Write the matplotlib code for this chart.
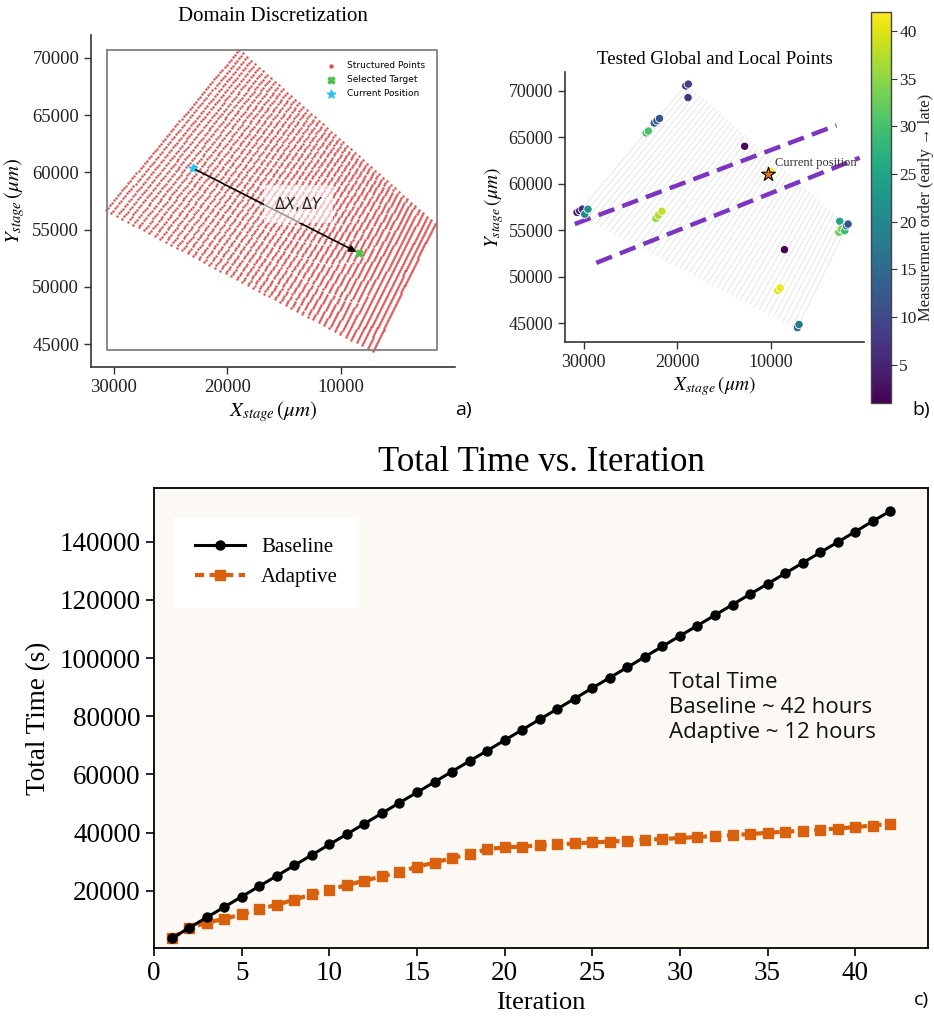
import numpy as np
import matplotlib
matplotlib.use("Agg")
import matplotlib.pyplot as plt

plt.rcParams["font.family"] = ["Liberation Serif", "DejaVu Serif"]
plt.rcParams["mathtext.fontset"] = "stix"

# sample region corners: top, left, right, bottom (stage coords, um)
corner_x = [19000, 30700, 1800, 7200]
corner_y = [70700, 56700, 55500, 44400]
n_cols, n_rows = 50, 66

current_pos = (23000, 60350)
target_pos = (8450, 52950)

# tested points for panel b
tested_x = [19070, 18800, 18830, 23330, 23080, 22450, 22160, 21880, 12770,
            30710, 30430, 30140, 29890, 29540, 22270, 21990, 21630, 10030,
            2590, 2690, 2420, 2050, 1880, 1700, 8510, 9220, 8970, 7130, 6950]
tested_y = [70500, 70700, 69250, 65450, 65660, 66520, 66770, 67010, 64020,
            56920, 57090, 57270, 56730, 57270, 56280, 56630, 57050, 61350,
            55960, 54780, 55130, 54950, 55490, 55670, 52920, 48520, 48800,
            44540, 44890]
tested_order = [8, 9, 7, 31, 30, 14, 13, 12, 2,
                4, 5, 6, 21, 22, 36, 37, 38, 42,
                25, 33, 34, 29, 15, 11, 1, 40, 41, 16, 17]
star_pos = (10280, 61080)

band_x = [[30950, 2950], [28650, 460]]
band_y = [[55670, 66270], [51500, 62790]]

# panel c
iterations = list(range(1, 43))
baseline = [3600, 7200, 10800, 14350, 17950, 21550, 25100, 28700, 32300, 35900,
            39450, 43050, 46650, 50250, 53800, 57400, 61000, 64600, 68150, 71750,
            75350, 78950, 82500, 86100, 89700, 93300, 96850, 100450, 104050, 107650,
            111200, 114800, 118400, 122000, 125550, 129150, 132750, 136350, 139900,
            143500, 147100, 150600]
adaptive = [3700, 7100, 9000, 10300, 11900, 13600, 15200, 16900, 18800, 20400,
            21900, 23500, 24900, 26500, 28200, 29700, 31200, 32600, 34300, 34900,
            35200, 35600, 35900, 36300, 36600, 36900, 37200, 37500, 37800, 38100,
            38500, 38800, 39100, 39500, 39900, 40300, 40600, 41000, 41400, 41900,
            42400, 43000]


def grid(n_u, n_v):
    # structured lattice inside the four corners
    u = np.linspace(0, 1, n_u)[:, None]
    v = np.linspace(0, 1, n_v)[None, :]
    tx, lx, rx, bx = corner_x
    ty, ly, ry, by = corner_y
    gx = (1 - u) * (1 - v) * tx + (1 - u) * v * lx + u * (1 - v) * rx + u * v * bx
    gy = (1 - u) * (1 - v) * ty + (1 - u) * v * ly + u * (1 - v) * ry + u * v * by
    return gx, gy


def style_open(ax, size):
    for s in ["top", "right"]:
        ax.spines[s].set_visible(False)
    for s in ["left", "bottom"]:
        ax.spines[s].set_color("#333333")
        ax.spines[s].set_linewidth(1.2)
    ax.tick_params(direction="out", length=5, width=1, colors="#333333",
                   labelsize=size, labelcolor="#222222")


fig = plt.figure(figsize=(9.34, 10.21), dpi=100)

# ---------- a) ----------
ax1 = fig.add_axes([0.0974, 0.6405, 0.3898, 0.3252])
gx, gy = grid(n_cols, n_rows)
ax1.scatter(gx.ravel(), gy.ravel(), s=3.2, color="#de3a3a", lw=0, alpha=0.9,
            label="Structured Points")
ax1.scatter(*target_pos, marker="X", s=24, color="#4cc04c", label="Selected Target", zorder=4)
ax1.scatter(*current_pos, marker="*", s=40, color="#26c6f0", label="Current Position", zorder=4)
ax1.plot([30610, 1620, 1620, 30610, 30610], [70720, 70720, 44480, 44480, 70720],
         color="#808080", lw=1.3)
ax1.annotate("", xy=target_pos, xytext=current_pos,
             arrowprops=dict(arrowstyle="-|>", color="black", lw=1.2), zorder=5)
ax1.text(13750, 57250, r"$\Delta X, \Delta Y$", fontsize=10.5, ha="center", va="center",
         math_fontfamily="dejavusans", color="#222222",
         bbox=dict(facecolor="white", edgecolor="none", alpha=0.6, pad=7), zorder=6)
ax1.set_xlim(32000, 0)
ax1.set_ylim(43000, 72000)
ax1.set_xticks([30000, 20000, 10000])
ax1.set_yticks([45000, 50000, 55000, 60000, 65000, 70000])
style_open(ax1, 13.5)
ax1.set_title("Domain Discretization", fontsize=15, pad=10)
ax1.set_xlabel(r"$X_{stage}\,(\mu m)$", fontsize=15, labelpad=2)
ax1.set_ylabel(r"$Y_{stage}\,(\mu m)$", fontsize=15, labelpad=4)
leg1 = ax1.legend(loc="upper right", bbox_to_anchor=(0.94, 0.945), frameon=False,
                  prop={"family": "DejaVu Sans", "size": 6.5}, markerscale=1.0,
                  handletextpad=0.8, labelspacing=0.55)
leg1.legend_handles[0].set_sizes([10])

# ---------- b) ----------
ax2 = fig.add_axes([0.6049, 0.665, 0.3201, 0.2645])
lx, ly = grid(48, 2)
for i in range(lx.shape[0]):
    ax2.plot(lx[i], ly[i], color="#dcdcdc", lw=0.5, zorder=1)
for bx, by in zip(band_x, band_y):
    ax2.plot(bx, by, color="#7b35c1", lw=3.2, linestyle=(0, (3.8, 1.9)), zorder=2)
sc = ax2.scatter(tested_x, tested_y, c=tested_order, cmap="viridis", vmin=1, vmax=42,
                 s=36, edgecolors="white", linewidths=0.6, zorder=3)
ax2.scatter(*star_pos, marker="*", s=110, color="#e8741c", edgecolors="black",
            linewidths=0.8, zorder=4)
ax2.text(9500, 62180, "Current position", fontsize=9, color="#333333",
         ha="left", va="center", zorder=5)
ax2.set_xlim(32000, 0)
ax2.set_ylim(43000, 72000)
ax2.set_xticks([30000, 20000, 10000])
ax2.set_yticks([45000, 50000, 55000, 60000, 65000, 70000])
style_open(ax2, 13)
ax2.set_title("Tested Global and Local Points", fontsize=13.5, pad=6)
ax2.set_xlabel(r"$X_{stage}\,(\mu m)$", fontsize=14, labelpad=2)
ax2.set_ylabel(r"$Y_{stage}\,(\mu m)$", fontsize=14, labelpad=2)

cax = fig.add_axes([0.9325, 0.6053, 0.0214, 0.3829])
cb = fig.colorbar(sc, cax=cax)
cb.set_ticks([5, 10, 15, 20, 25, 30, 35, 40])
cb.outline.set_edgecolor("#444444")
cb.outline.set_linewidth(1)
cax.tick_params(labelsize=12.5, length=4, pad=2, colors="#333333", labelcolor="#222222")
fig.text(926 / 934, 1 - 207 / 1021, "Measurement order (early \u2192 late)", rotation=90,
         fontsize=12, ha="center", va="center", color="#222222")

# ---------- c) ----------
ax3 = fig.add_axes([0.1649, 0.0715, 0.8287, 0.4505])
ax3.set_facecolor("#fcf9f5")
ax3.plot(iterations, baseline, color="black", lw=2.2, marker="o", markersize=6.5,
         label="Baseline", zorder=3)
ax3.plot(iterations, adaptive, color="#d9600c", lw=3, linestyle=(0, (2.2, 1.3)),
         marker="s", markersize=7, label="Adaptive", zorder=2)
ax3.set_xlim(0, 44.15)
ax3.set_ylim(300, 158500)
ax3.set_xticks(range(0, 41, 5))
ax3.set_yticks(range(20000, 140001, 20000))
for s in ax3.spines.values():
    s.set_color("black")
    s.set_linewidth(1.3)
ax3.tick_params(direction="out", length=6, width=1.2, labelsize=19.5)
ax3.set_title("Total Time vs. Iteration", fontsize=25, pad=12)
ax3.set_xlabel("Iteration", fontsize=19, labelpad=4)
ax3.set_ylabel("Total Time (s)", fontsize=19.5, labelpad=6)
leg3 = ax3.legend(loc="upper left", bbox_to_anchor=(0.012, 0.96), fontsize=15,
                  frameon=True, facecolor="white", edgecolor="none", framealpha=1,
                  fancybox=False, handlelength=2.4, borderpad=1.0, labelspacing=0.5)
ax3.text(0.665, 0.60, "Total Time\nBaseline ~ 42 hours\nAdaptive ~ 12 hours",
         transform=ax3.transAxes, fontsize=16, family="Open Sans", ha="left",
         va="top", linespacing=1.25, color="#111111")

# panel labels
for lab, x, y in [("a)", 463, 410), ("b)", 921, 410), ("c)", 921, 1000)]:
    fig.text(x / 934, 1 - y / 1021, lab, fontsize=14, family="Open Sans",
             ha="center", va="center")

fig.savefig("out.png", dpi=100)
